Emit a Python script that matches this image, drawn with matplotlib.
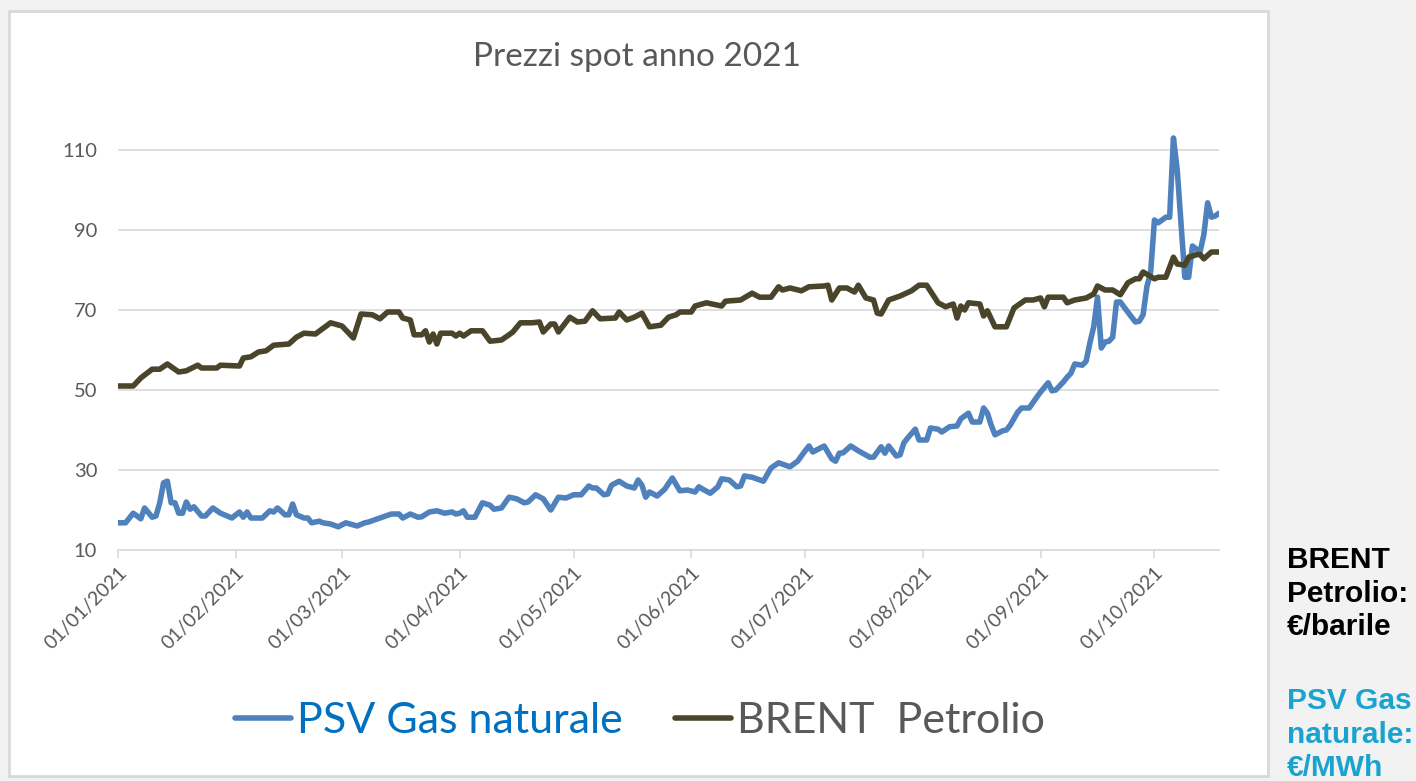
import matplotlib
matplotlib.use("Agg")
import matplotlib.pyplot as plt
import matplotlib.dates as mdates
from matplotlib.patches import Rectangle
import pandas as pd

# Dati (prezzi spot 2021)
brent_date = [
    "01-01", "01-05", "01-07", "01-10", "01-12", "01-14", "01-17", "01-19", "01-22", "01-23",
    "01-27", "01-28", "02-02", "02-03", "02-05", "02-07", "02-09", "02-11", "02-15", "02-17",
    "02-19", "02-22", "02-26", "03-01", "03-04", "03-06", "03-09", "03-11", "03-13", "03-16",
    "03-17", "03-19", "03-20", "03-22", "03-23", "03-24", "03-25", "03-26", "03-27", "03-30",
    "03-31", "04-01", "04-02", "04-04", "04-07", "04-09", "04-12", "04-14", "04-15", "04-17",
    "04-20", "04-22", "04-23", "04-25", "04-26", "04-27", "04-30", "05-02", "05-04", "05-06",
    "05-08", "05-12", "05-13", "05-15", "05-17", "05-19", "05-21", "05-24", "05-26", "05-28",
    "05-29", "06-01", "06-02", "06-05", "06-09", "06-10", "06-14", "06-17", "06-19", "06-22",
    "06-24", "06-25", "06-27", "06-30", "07-02", "07-06", "07-07", "07-08", "07-10", "07-12",
    "07-14", "07-15", "07-17", "07-19", "07-20", "07-21", "07-23", "07-26", "07-29", "07-31",
    "08-02", "08-05", "08-07", "08-09", "08-10", "08-11", "08-12", "08-13", "08-16", "08-17",
    "08-18", "08-19", "08-20", "08-23", "08-25", "08-28", "08-30", "09-01", "09-02", "09-03",
    "09-07", "09-08", "09-10", "09-13", "09-15", "09-16", "09-18", "09-20", "09-22", "09-24",
    "09-26", "09-27", "09-28", "10-01", "10-02", "10-04", "10-06", "10-07", "10-09", "10-10",
    "10-12", "10-13", "10-14", "10-16", "10-18",
]
brent = [
    51, 51, 53, 55.2, 55.2, 56.5, 54.5, 54.8, 56.2, 55.5,
    55.5, 56.2, 56, 58, 58.3, 59.5, 59.8, 61.2, 61.5, 63.2,
    64.2, 64, 66.8, 66, 63, 69, 68.8, 67.8, 69.5, 69.5,
    68, 67.5, 63.8, 63.8, 64.8, 62, 64, 61.5, 64.2, 64.2,
    63.5, 64.2, 63.5, 64.8, 64.8, 62.2, 62.5, 63.8, 64.5, 66.8,
    66.8, 67, 64.5, 66.5, 66.5, 64.5, 68.2, 67, 67.2, 69.8,
    67.8, 68, 69.5, 67.5, 68.2, 69.2, 65.8, 66.2, 68.2, 68.8,
    69.5, 69.5, 71, 71.8, 71, 72.2, 72.5, 74.2, 73.2, 73.2,
    75.8, 75, 75.5, 74.8, 75.8, 76, 76.2, 72.5, 75.5, 75.5,
    74.5, 76.2, 73, 72.5, 69.2, 69, 72.5, 73.5, 74.8, 76.2,
    76.2, 71.8, 70.8, 71.5, 68, 71, 70, 71.8, 71.5, 68.5,
    69.8, 67.8, 65.8, 65.8, 70.5, 72.5, 72.5, 73, 70.8, 73.2,
    73.2, 71.8, 72.5, 73, 74, 76, 75, 75, 73.8, 76.8,
    77.8, 77.8, 79.5, 77.8, 78.2, 78.2, 83.2, 81.5, 81.2, 83.2,
    83.8, 83.9, 82.8, 84.5, 84.5,
]

psv_date = [
    "01-01", "01-03", "01-05", "01-07", "01-08", "01-10", "01-11", "01-12", "01-13", "01-14",
    "01-15", "01-16", "01-17", "01-18", "01-19", "01-20", "01-21", "01-23", "01-24", "01-26",
    "01-28", "01-31", "02-02", "02-03", "02-04", "02-05", "02-08", "02-10", "02-11", "02-12",
    "02-14", "02-15", "02-16", "02-17", "02-19", "02-20", "02-21", "02-23", "02-24", "02-26",
    "02-28", "03-02", "03-05", "03-07", "03-08", "03-11", "03-14", "03-16", "03-17", "03-19",
    "03-21", "03-22", "03-24", "03-26", "03-28", "03-30", "03-31", "04-01", "04-02", "04-03",
    "04-05", "04-07", "04-09", "04-10", "04-12", "04-14", "04-16", "04-18", "04-19", "04-21",
    "04-23", "04-25", "04-27", "04-29", "05-01", "05-03", "05-05", "05-06", "05-07", "05-09",
    "05-10", "05-11", "05-13", "05-15", "05-17", "05-18", "05-19", "05-20", "05-21", "05-23",
    "05-25", "05-27", "05-29", "05-31", "06-02", "06-03", "06-04", "06-06", "06-08", "06-09",
    "06-11", "06-13", "06-14", "06-15", "06-17", "06-20", "06-22", "06-24", "06-27", "06-29",
    "07-01", "07-02", "07-03", "07-06", "07-08", "07-09", "07-10", "07-11", "07-13", "07-15",
    "07-18", "07-19", "07-21", "07-22", "07-23", "07-25", "07-26", "07-27", "07-28", "07-30",
    "07-31", "08-02", "08-03", "08-05", "08-06", "08-08", "08-10", "08-11", "08-13", "08-14",
    "08-16", "08-17", "08-18", "08-19", "08-20", "08-22", "08-23", "08-24", "08-26", "08-27",
    "08-29", "08-31", "09-01", "09-03", "09-04", "09-05", "09-07", "09-08", "09-09", "09-10",
    "09-12", "09-13", "09-14", "09-15", "09-16", "09-17", "09-18", "09-19", "09-20", "09-21",
    "09-22", "09-25", "09-26", "09-27", "09-28", "09-29", "09-30", "10-01", "10-02", "10-03",
    "10-04", "10-05", "10-06", "10-07", "10-09", "10-10", "10-11", "10-13", "10-14", "10-15",
    "10-16", "10-17", "10-18",
]
psv = [
    16.8, 16.8, 19.2, 17.8, 20.5, 18.2, 18.5, 21.8, 26.8, 27.2,
    21.8, 21.8, 19.2, 19.2, 22, 20.2, 20.8, 18.5, 18.5, 20.5,
    19.2, 18, 19.5, 18.2, 19.5, 18, 18, 19.8, 19.5, 20.5,
    18.8, 18.8, 21.5, 18.8, 18, 18, 16.8, 17.2, 16.8, 16.5,
    15.8, 16.8, 16, 16.8, 17, 18, 19, 19, 18, 19,
    18.2, 18.3, 19.5, 19.8, 19.2, 19.5, 19, 19.2, 19.8, 18.2,
    18.2, 21.8, 21.2, 20.2, 20.5, 23.2, 22.8, 21.8, 22, 23.8,
    22.8, 20, 23.2, 23, 23.8, 23.8, 26, 25.5, 25.5, 23.8,
    24, 26.2, 27.2, 26, 25.5, 27.5, 26.2, 23.2, 24.5, 23.5,
    25.2, 28, 24.8, 25, 24.5, 25.8, 25.2, 24.2, 25.8, 27.8,
    27.5, 25.8, 26, 28.5, 28.2, 27.2, 30.5, 31.8, 30.8, 32.2,
    34.8, 36, 34.5, 36, 32.8, 32.2, 34.2, 34.3, 36, 34.8,
    33.2, 33.2, 35.8, 34.2, 36, 33.5, 33.8, 36.8, 38, 40.2,
    37.5, 37.5, 40.5, 40.2, 39.5, 40.8, 41, 42.8, 44.2, 42,
    42, 45.5, 44.2, 41.2, 38.8, 39.8, 40, 41.2, 44.5, 45.5,
    45.5, 48.2, 49.5, 51.8, 49.8, 50, 52, 53.2, 54.2, 56.5,
    56.2, 57.2, 61.8, 65.8, 73.2, 60.5, 62, 62.2, 63.2, 72,
    72, 68.2, 67, 67.2, 68.8, 75.8, 79.5, 92.5, 91.8, 92.5,
    93.2, 93.2, 113, 105, 78.2, 78.2, 86, 84.5, 88.8, 96.8,
    93.2, 93.5, 94.2,
]

y_ticks = [10, 30, 50, 70, 90, 110]

grigio = "#595959"
col_psv = "#4f81bd"
col_brent = "#4a452a"

plt.rcParams["font.family"] = ["Lato", "DejaVu Sans"]

fig = plt.figure(figsize=(14.16, 7.81), dpi=100, facecolor="#f2f2f2")

# riquadro bianco del grafico
W, H = 1416, 781
fig.patches.append(Rectangle((9 / W, 1 - 776 / H), (1268 - 9) / W, (776 - 11) / H,
                             transform=fig.transFigure, facecolor="white",
                             edgecolor="#d9d9d9", linewidth=2, zorder=-5))

ax = fig.add_axes([118 / W, 1 - 550 / H, (1219 - 118) / W, (550 - 110) / H])
ax.set_facecolor("none")
ax.set_zorder(2)

d_brent = pd.to_datetime(["2021-" + d for d in brent_date])
d_psv = pd.to_datetime(["2021-" + d for d in psv_date])

ax.plot(d_psv, psv, color=col_psv, lw=4, solid_joinstyle="round",
        solid_capstyle="round", label="PSV Gas naturale", zorder=3)
ax.plot(d_brent, brent, color=col_brent, lw=4, solid_joinstyle="round",
        solid_capstyle="round", label="BRENT  Petrolio", zorder=3)

ax.set_ylim(10, 120)
ax.set_yticks(y_ticks)
ax.set_xlim(pd.Timestamp("2021-01-01"), pd.Timestamp("2021-10-18"))
ax.xaxis.set_major_locator(mdates.MonthLocator())
ax.xaxis.set_major_formatter(mdates.DateFormatter("%d/%m/%Y"))

ax.grid(axis="y", color="#d9d9d9", lw=1.2)
ax.set_axisbelow(True)
for s in ["top", "right", "left"]:
    ax.spines[s].set_visible(False)
ax.spines["bottom"].set_color("#d9d9d9")
ax.spines["bottom"].set_linewidth(1.2)

ax.tick_params(axis="y", length=0, labelsize=14.5, labelcolor=grigio, pad=15)
ax.tick_params(axis="x", length=6, width=1.2, color="#d9d9d9", labelsize=14,
               labelcolor=grigio, pad=4)
for lab in ax.get_xticklabels():
    lab.set_rotation(45)
    lab.set_ha("right")
    lab.set_va("top")
    lab.set_rotation_mode("anchor")

fig.text(637 / W, 1 - 57 / H, "Prezzi spot anno 2021", ha="center", va="center",
         fontsize=24, color=grigio)

leg = ax.legend(loc="center", bbox_to_anchor=(640 / W, 1 - 721 / H),
                bbox_transform=fig.transFigure, ncol=2, frameon=False,
                fontsize=31, handlelength=1.3, handletextpad=0.15,
                columnspacing=1.2)
leg.get_texts()[0].set_color("#0070c0")
leg.get_texts()[1].set_color(grigio)

# note a destra
fig.text(1287 / W, 1 - 546 / H, "BRENT\nPetrolio:\n€/barile", ha="left", va="top",
         fontsize=21.5, fontweight="bold", color="black", linespacing=1.26,
         family=["Liberation Sans", "DejaVu Sans"])
fig.text(1287 / W, 1 - 687 / H, "PSV Gas\nnaturale:\n€/MWh", ha="left", va="top",
         fontsize=21.5, fontweight="bold", color="#1aa3d1", linespacing=1.26,
         family=["Liberation Sans", "DejaVu Sans"])

fig.savefig("out.png", dpi=100, facecolor=fig.get_facecolor())
